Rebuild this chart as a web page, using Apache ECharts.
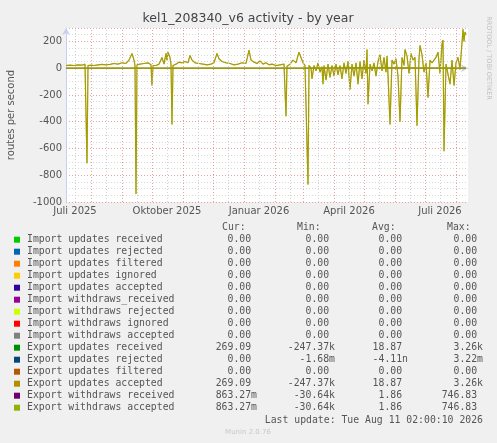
<!DOCTYPE html><html><head><meta charset="utf-8">
<script src="https://cdn.jsdelivr.net/npm/echarts@6/dist/echarts.min.js"></script>
<style>html,body{margin:0;background:#f0f0f0}#c{width:497px;height:443px}</style></head><body><div id="c"></div><script>
// x values are days since 2025-07-07
const monthStarts=[25,56,86,117,147,178,209,237,268,298,329,359,390];
const tickLabelDays=[9,101,193,283,374];
const tickLabels=['Juli 2025','Oktober 2025','Januar 2026','April 2026','Juli 2026'];
const exportUpdatesAccepted=[[0,20],[4,22],[8,20],[12,25],[16,22],[19,30],[20,25],[21,-710],[22,20],[25,22],[28,20],[32,25],[36,28],[40,25],[44,28],[48,35],[52,30],[56,40],[60,35],[63,60],[66,110],[68,60],[69,20],[70,-940],[71,25],[74,30],[78,35],[82,40],[85,25],[86,-130],[87,20],[90,20],[93,30],[96,80],[98,30],[100,110],[101,60],[102,120],[104,80],[105,30],[106,-420],[107,20],[110,30],[113,45],[116,40],[119,50],[122,40],[124,95],[126,60],[129,40],[133,35],[137,30],[141,25],[145,30],[148,40],[151,110],[153,70],[156,50],[160,40],[164,35],[168,25],[172,30],[176,40],[180,35],[183,135],[185,60],[188,45],[191,35],[194,55],[197,30],[200,40],[203,25],[206,30],[210,20],[214,25],[218,30],[219,20],[220,-360],[221,15],[224,30],[227,60],[230,40],[233,120],[235,80],[237,40],[239,20],[241,10],[242,-870],[243,20],[245,0],[246,-80],[248,20],[250,-20],[252,40],[254,-30],[256,10],[257,-120],[258,20],[260,-90],[262,30],[264,-70],[266,20],[268,-60],[270,30],[272,-50],[274,20],[276,-80],[278,40],[280,-40],[282,50],[284,-160],[286,30],[288,-60],[290,40],[292,-120],[294,50],[296,-80],[298,60],[300,-40],[301,140],[302,-270],[304,30],[306,-20],[308,40],[310,-60],[312,50],[314,100],[316,-20],[318,80],[320,-30],[321,90],[322,-50],[324,-420],[326,60],[328,30],[330,70],[332,-60],[334,-400],[336,80],[338,20],[339,140],[341,90],[343,-40],[345,110],[347,60],[349,80],[351,-430],[353,70],[354,170],[356,100],[358,-30],[360,40],[362,-220],[364,60],[366,40],[368,50],[370,80],[372,120],[374,-40],[376,180],[377,210],[378,-620],[380,30],[382,40],[384,-120],[386,60],[388,-130],[390,40],[392,80],[394,-10],[396,-10],[397,290],[398,200],[399,270],[400,250]];
const exportWithdrawsAccepted=[[0,0],[70,0],[71,5],[150,0],[242,0],[300,5],[400,0]];
const zeroLine=[[0,0],[400,0]];
const legendNames=['Import updates received','Import updates rejected','Import updates filtered','Import updates ignored','Import updates accepted','Import withdraws_received','Import withdraws rejected','Import withdraws ignored','Import withdraws accepted','Export updates received','Export updates rejected','Export updates filtered','Export updates accepted','Export withdraws received','Export withdraws accepted'];
const legendColors=['#00cc00','#0066b3','#ff8000','#ffcc00','#330099','#990099','#ccff00','#ff0000','#808080','#008f00','#00487d','#b35a00','#b38f00','#6b006b','#8fb300'];
const curVals=['0.00 ','0.00 ','0.00 ','0.00 ','0.00 ','0.00 ','0.00 ','0.00 ','0.00 ','269.09 ','0.00 ','0.00 ','269.09 ','863.27m','863.27m'];
const minVals=['0.00 ','0.00 ','0.00 ','0.00 ','0.00 ','0.00 ','0.00 ','0.00 ','0.00 ','-247.37k','-1.68m','0.00 ','-247.37k','-30.64k','-30.64k'];
const avgVals=['0.00 ','0.00 ','0.00 ','0.00 ','0.00 ','0.00 ','0.00 ','0.00 ','0.00 ','18.87 ','-4.11n','0.00 ','18.87 ','1.86 ','1.86 '];
const maxVals=['0.00 ','0.00 ','0.00 ','0.00 ','0.00 ','0.00 ','0.00 ','0.00 ','0.00 ','3.26k','3.22m','0.00 ','3.26k','746.83 ','746.83 '];

const mono='DejaVu Sans Mono';
const g=[];
const txt=(x,y,t,o)=>g.push(Object.assign({type:'text',x,y,style:Object.assign({text:t,font:'9.8px "'+mono+'"',fill:'#555',textVerticalAlign:'middle'},o||{})}));
txt(222,227,'Cur:');txt(297,227,'Min:');txt(372,227,'Avg:');txt(447,227,'Max:');
legendNames.forEach((n,i)=>{const y=239.7+i*12;
 g.push({type:'rect',shape:{x:14,y:y-3,width:6,height:6},style:{fill:legendColors[i]}});
 txt(27,y,n);
 txt(257,y,curVals[i],{textAlign:'right'});txt(335,y,minVals[i],{textAlign:'right'});
 txt(408,y,avgVals[i],{textAlign:'right'});txt(483,y,maxVals[i],{textAlign:'right'});});
txt(483,420,'Last update: Tue Aug 11 02:00:10 2026',{textAlign:'right'});
g.push({type:'text',x:248,y:432,style:{text:'Munin 2.0.76',font:'7px "DejaVu Sans"',fill:'#c8c8c8',textAlign:'center',textVerticalAlign:'middle'}});
g.push({type:'text',x:248,y:19,style:{text:'kel1_208340_v6 activity - by year',font:'12.5px "DejaVu Sans"',fill:'#444',textAlign:'center',textVerticalAlign:'middle'}});
g.push({type:'text',x:11,y:115,rotation:Math.PI/2,style:{text:'routes per second',font:'10px "DejaVu Sans"',fill:'#555',textAlign:'center',textVerticalAlign:'middle'}});
g.push({type:'text',x:489,y:58,rotation:-Math.PI/2,style:{text:'RRDTOOL / TOBI OETIKER',font:'6.5px "DejaVu Sans"',fill:'#c0c0c0',textAlign:'center',textVerticalAlign:'middle'}});

const vlines=[];
monthStarts.forEach(d=>vlines.push({xAxis:d,lineStyle:{color:'#e8a0a0',type:[1,2],width:1}}));
monthStarts.forEach(d=>vlines.push({xAxis:d+15,lineStyle:{color:'#d0d0d0',type:[1,2],width:1}}));
vlines.push({xAxis:9,lineStyle:{color:'#d0d0d0',type:[1,2],width:1}});

const chart=echarts.init(document.getElementById('c'));
chart.setOption({backgroundColor:'#f0f0f0',animation:false,
 grid:{left:66,right:29,top:28,bottom:241,show:true,backgroundColor:'#fff',borderWidth:0},
 xAxis:{type:'value',min:0,max:402,axisLine:{lineStyle:{color:'#c8d0f0'},symbol:['none','arrow'],symbolSize:[6,7]},
  axisTick:{show:false},splitLine:{show:false},
  axisLabel:{customValues:tickLabelDays,formatter:v=>tickLabels[tickLabelDays.indexOf(v)]||'',color:'#555',fontFamily:'DejaVu Sans',fontSize:10,margin:4}},
 yAxis:{type:'value',min:-1000,max:300,interval:200,
  axisLine:{show:true,lineStyle:{color:'#c8d0f0'},symbol:['none','arrow'],symbolSize:[6,7]},axisTick:{show:false},
  axisLabel:{color:'#555',fontFamily:'DejaVu Sans',fontSize:10,margin:4,showMaxLabel:false,formatter:v=>String(v)},
  splitLine:{lineStyle:{color:'#e8a0a0',type:[1,2]}},
  minorTick:{show:false,splitNumber:4},minorSplitLine:{show:true,lineStyle:{color:'#d8d8d8',type:[1,2]}}},
 series:[
  {type:'line',data:zeroLine,symbol:'none',silent:true,lineStyle:{width:0},markLine:{silent:true,symbol:'none',label:{show:false},data:vlines}},
  {type:'line',data:zeroLine,symbol:'none',lineStyle:{color:'#b35a00',width:1}},
  {type:'line',data:exportUpdatesAccepted,symbol:'none',lineStyle:{color:'#b38f00',width:1.2}},
  {type:'line',data:exportUpdatesAccepted,symbol:'none',lineStyle:{color:'#8fb300',width:0.8,opacity:0.6}},
  {type:'line',data:exportWithdrawsAccepted,symbol:'none',lineStyle:{color:'#8fa000',width:1.2}}
 ],graphic:g});
</script></body></html>
